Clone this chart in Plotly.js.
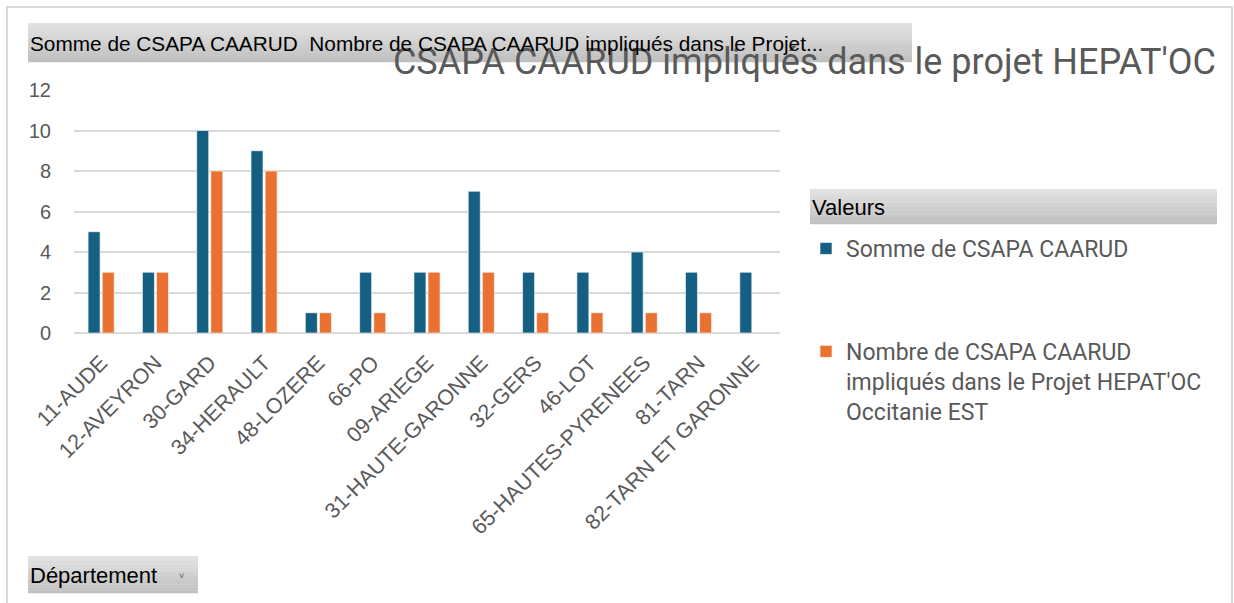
<!DOCTYPE html>
<html><head><meta charset="utf-8">
<script src="https://cdn.plot.ly/plotly-3.0.1.min.js"></script>
<style>html,body{margin:0;padding:0;background:#fff;}#chart{width:1234px;height:603px;}</style>
</head><body><div id="chart"></div>
<script>
const departements = ["11-AUDE","12-AVEYRON","30-GARD","34-HERAULT","48-LOZERE","66-PO","09-ARIEGE","31-HAUTE-GARONNE","32-GERS","46-LOT","65-HAUTES-PYRENEES","81-TARN","82-TARN ET GARONNE"];
const sommeCsapa = [5,3,10,9,1,3,3,7,3,3,4,3,3];
const nombreImpliques = [3,3,8,8,1,1,3,3,1,1,1,1,null];
const serieNames = ["Somme de CSAPA CAARUD","Nombre de CSAPA CAARUD<br>impliqués dans le Projet HEPAT'OC<br>Occitanie EST"];
const yTicks = [0,2,4,6,8,10,12];

const W=1234,H=603,L=74,T=90,R=780,B=333;
const PW=R-L, PH=B-T;
const px=x=>(x-L)/PW, py=y=>(B-y)/PH;

const shapes=[];
function button(x0,y0,x1,y1){
  const n=13, c0=[226,226,226], c1=[192,192,192];
  const h=(y1-y0)/n;
  for(let i=0;i<n;i++){
    const t=i/(n-1);
    const c=c0.map((v,k)=>Math.round(v+(c1[k]-v)*t));
    shapes.push({type:'rect',xref:'paper',yref:'paper',x0:px(x0),x1:px(x1),y0:py(y0+h*(i+1)+0.3),y1:py(y0+h*i),fillcolor:`rgb(${c})`,line:{width:0},layer:'below'});
  }
}
// outer border
shapes.push({type:'rect',xref:'paper',yref:'paper',x0:px(7),x1:px(1232),y0:py(610),y1:py(7),line:{color:'#d9d9d9',width:2},fillcolor:'rgba(0,0,0,0)',layer:'below'});
button(28,23,912,62);
button(810,189,1217,224);
button(28,556,198,593);

const btnFont={family:'Liberation Sans, Arial, sans-serif',size:22,color:'#000'};
const annotations=[
  {xref:'paper',yref:'paper',x:px(28),y:py(44),xanchor:'left',yanchor:'middle',showarrow:false,text:"Somme de CSAPA CAARUD  Nombre de CSAPA CAARUD impliqués dans le Projet...",font:Object.assign({},btnFont,{size:20.8})},
  {xref:'paper',yref:'paper',x:px(810),y:py(207),xanchor:'left',yanchor:'middle',showarrow:false,text:"Valeurs",font:btnFont},
  {xref:'paper',yref:'paper',x:px(28),y:py(575),xanchor:'left',yanchor:'middle',showarrow:false,text:"Département",font:btnFont},
  {xref:'paper',yref:'paper',x:px(181),y:py(576),xanchor:'center',yanchor:'middle',showarrow:false,text:"˅",font:{family:'Liberation Sans',size:9,color:'#555'}}
];

const data=[
  {type:'bar',x:departements,y:sommeCsapa,name:serieNames[0],legendgroup:'a',marker:{color:'#156082',line:{color:'rgba(255,255,255,0.6)',width:1}}},
  {type:'bar',x:departements,y:nombreImpliques,name:serieNames[1],legendgroup:'b',marker:{color:'#E97132',line:{color:'rgba(255,255,255,0.6)',width:1}}}
];
const layout={
  width:W,height:H,
  margin:{l:L,r:W-R,t:T,b:H-B,pad:0},
  paper_bgcolor:'#fff',plot_bgcolor:'#fff',
  barmode:'group',bargap:0.48,bargroupgap:0.15,
  title:{text:"CSAPA CAARUD impliqués dans le projet HEPAT'OC",xref:'container',yref:'container',x:1216/W,xanchor:'right',y:1-61/H,yanchor:'middle',font:{family:'Roboto, sans-serif',size:36,color:'#595959'}},
  xaxis:{type:'category',tickangle:-45,tickfont:{family:'Liberation Sans, Arial, sans-serif',size:21.5,color:'#595959'},ticklabelstandoff:12,showgrid:false,showline:false,ticks:'',fixedrange:true,automargin:false},
  yaxis:{range:[0,12],tickvals:yTicks,ticktext:yTicks.map(String),tickfont:{family:'Liberation Sans, Arial, sans-serif',size:20,color:'#595959'},showgrid:true,gridcolor:'#d9d9d9',gridwidth:2,zeroline:true,zerolinecolor:'#d9d9d9',zerolinewidth:2,showline:false,ticks:'',ticklabelstandoff:22,fixedrange:true,automargin:false},
  showlegend:true,
  legend:{xref:'container',yref:'container',x:806/W,xanchor:'left',y:1-227/H,yanchor:'top',traceorder:'grouped',tracegroupgap:70,valign:'top',font:{family:'Roboto, sans-serif',size:23,color:'#595959'},bgcolor:'rgba(0,0,0,0)',itemwidth:30},
  shapes:shapes,annotations:annotations,hovermode:false
};
Plotly.newPlot('chart',data,layout,{staticPlot:true,displayModeBar:false});
</script></body></html>
